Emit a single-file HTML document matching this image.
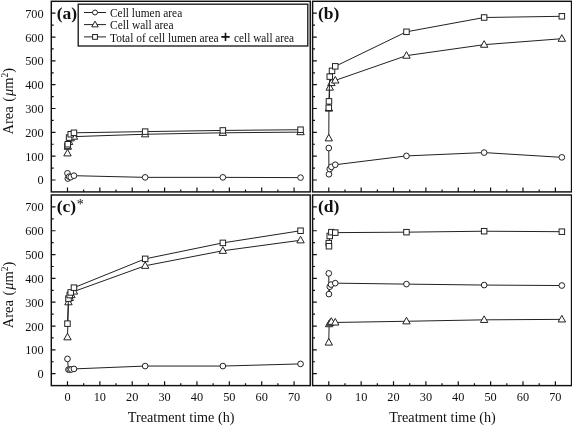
<!DOCTYPE html>
<html><head><meta charset="utf-8"><title>Figure</title>
<style>
html,body{margin:0;padding:0;background:#fff;}
body{width:572px;height:425px;overflow:hidden;}
svg{display:block;will-change:transform;font-family:"Liberation Serif",serif;}
.fr{fill:none;stroke:#111;stroke-width:1.45;}
.tk{fill:none;stroke:#111;stroke-width:1.2;}
.ln{fill:none;stroke:#222;stroke-width:1;}
.mk{fill:#fff;stroke:#222;stroke-width:1;}
.lg{fill:#fff;stroke:#111;stroke-width:1.3;}
.pl{font-size:17.5px;font-weight:bold;fill:#111;}
.ast{font-size:14px;font-weight:normal;}
.yl{font-size:12.3px;text-anchor:end;fill:#111;}
.xl{font-size:12.3px;text-anchor:middle;fill:#111;}
.al{font-size:14.5px;fill:#111;}
.lt{font-size:12.4px;fill:#111;}
</style></head><body>
<svg width="572" height="425" viewBox="0 0 572 425">
<rect width="572" height="425" fill="#fff"/>
<g>
<path class="tk" d="M67.48 191.9v-4.4M83.67 191.9v-2.4M99.85 191.9v-4.4M116.04 191.9v-2.4M132.22 191.9v-4.4M148.41 191.9v-2.4M164.59 191.9v-4.4M180.77 191.9v-2.4M196.96 191.9v-4.4M213.14 191.9v-2.4M229.33 191.9v-4.4M245.51 191.9v-2.4M261.7 191.9v-4.4M277.88 191.9v-2.4M294.07 191.9v-4.4M51.3 179.99h4.2M51.3 168.08h2.4M51.3 156.16h4.2M51.3 144.25h2.4M51.3 132.34h4.2M51.3 120.43h2.4M51.3 108.51h4.2M51.3 96.6h2.4M51.3 84.69h4.2M51.3 72.78h2.4M51.3 60.86h4.2M51.3 48.95h2.4M51.3 37.04h4.2M51.3 25.13h2.4M51.3 13.21h4.2"/>
<polyline class="ln" points="67.48,173.32 67.81,178.56 69.1,176.65 70.72,177.13 73.96,175.7 145.17,177.37 222.85,177.37 300.54,177.61"/>
<g class="mk"><circle cx="67.48" cy="173.32" r="2.85"/><circle cx="67.81" cy="178.56" r="2.85"/><circle cx="69.1" cy="176.65" r="2.85"/><circle cx="70.72" cy="177.13" r="2.85"/><circle cx="73.96" cy="175.7" r="2.85"/><circle cx="145.17" cy="177.37" r="2.85"/><circle cx="222.85" cy="177.37" r="2.85"/><circle cx="300.54" cy="177.61" r="2.85"/></g>
<polyline class="ln" points="67.48,153.3 67.81,146.63 69.1,141.87 70.72,138.29 73.96,136.63 145.17,134.24 222.85,132.81 300.54,132.1"/>
<g class="mk"><path d="M67.48 149.3L71.18 155.9L63.78 155.9Z"/><path d="M67.81 142.63L71.51 149.23L64.11 149.23Z"/><path d="M69.1 137.87L72.8 144.47L65.4 144.47Z"/><path d="M70.72 134.29L74.42 140.89L67.02 140.89Z"/><path d="M73.96 132.63L77.66 139.23L70.26 139.23Z"/><path d="M145.17 130.24L148.87 136.84L141.47 136.84Z"/><path d="M222.85 128.81L226.55 135.41L219.15 135.41Z"/><path d="M300.54 128.1L304.24 134.7L296.84 134.7Z"/></g>
<polyline class="ln" points="67.48,145.92 67.81,144.25 69.1,137.58 70.72,134.24 73.96,132.81 145.17,131.62 222.85,130.43 300.54,129.72"/>
<g class="mk"><rect x="64.73" y="143.17" width="5.5" height="5.5"/><rect x="65.06" y="141.5" width="5.5" height="5.5"/><rect x="66.35" y="134.83" width="5.5" height="5.5"/><rect x="67.97" y="131.49" width="5.5" height="5.5"/><rect x="71.21" y="130.06" width="5.5" height="5.5"/><rect x="142.42" y="128.87" width="5.5" height="5.5"/><rect x="220.1" y="127.68" width="5.5" height="5.5"/><rect x="297.79" y="126.97" width="5.5" height="5.5"/></g>
<rect class="fr" x="51.3" y="1.3" width="258.95" height="190.6"/>
<text class="pl" x="56.7" y="18.6">(a)</text>
<text class="yl" x="43.6" y="184.49">0</text>
<text class="yl" x="43.6" y="160.66">100</text>
<text class="yl" x="43.6" y="136.84">200</text>
<text class="yl" x="43.6" y="113.01">300</text>
<text class="yl" x="43.6" y="89.19">400</text>
<text class="yl" x="43.6" y="65.36">500</text>
<text class="yl" x="43.6" y="41.54">600</text>
<text class="yl" x="43.6" y="17.71">700</text>
<text class="al" transform="translate(12.7 134.5) rotate(-90)">Area<tspan dx="4.6">(</tspan><tspan font-style="italic" dx="0.8">μ</tspan>m<tspan font-size="9.5" dy="-4.5">2</tspan><tspan dy="4.5">)</tspan></text>
</g>
<g>
<path class="tk" d="M328.78 191.9v-4.4M344.97 191.9v-2.4M361.15 191.9v-4.4M377.34 191.9v-2.4M393.52 191.9v-4.4M409.71 191.9v-2.4M425.89 191.9v-4.4M442.07 191.9v-2.4M458.26 191.9v-4.4M474.44 191.9v-2.4M490.63 191.9v-4.4M506.81 191.9v-2.4M523 191.9v-4.4M539.18 191.9v-2.4M555.37 191.9v-4.4M312.6 179.99h4.2M312.6 168.08h2.4M312.6 156.16h4.2M312.6 144.25h2.4M312.6 132.34h4.2M312.6 120.43h2.4M312.6 108.51h4.2M312.6 96.6h2.4M312.6 84.69h4.2M312.6 72.78h2.4M312.6 60.86h4.2M312.6 48.95h2.4M312.6 37.04h4.2M312.6 25.13h2.4M312.6 13.21h4.2"/>
<polyline class="ln" points="328.78,148.06 328.95,174.27 329.76,169.03 331.37,166.88 335.26,164.74 406.47,155.92 484.15,152.59 561.84,157.35"/>
<g class="mk"><circle cx="328.78" cy="148.06" r="2.85"/><circle cx="328.95" cy="174.27" r="2.85"/><circle cx="329.76" cy="169.03" r="2.85"/><circle cx="331.37" cy="166.88" r="2.85"/><circle cx="335.26" cy="164.74" r="2.85"/><circle cx="406.47" cy="155.92" r="2.85"/><circle cx="484.15" cy="152.59" r="2.85"/><circle cx="561.84" cy="157.35" r="2.85"/></g>
<polyline class="ln" points="328.78,138.29 328.95,108.51 329.76,87.55 331.37,83.02 335.26,80.4 406.47,55.62 484.15,44.66 561.84,38.71"/>
<g class="mk"><path d="M328.78 134.29L332.48 140.89L325.08 140.89Z"/><path d="M328.95 104.51L332.65 111.11L325.25 111.11Z"/><path d="M329.76 83.55L333.46 90.15L326.06 90.15Z"/><path d="M331.37 79.02L335.07 85.62L327.67 85.62Z"/><path d="M335.26 76.4L338.96 83L331.56 83Z"/><path d="M406.47 51.62L410.17 58.22L402.77 58.22Z"/><path d="M484.15 40.66L487.85 47.26L480.45 47.26Z"/><path d="M561.84 34.71L565.54 41.31L558.14 41.31Z"/></g>
<polyline class="ln" points="328.78,107.8 328.95,101.37 329.76,76.59 332.02,70.87 335.26,66.34 406.47,31.8 484.15,17.5 561.84,16.31"/>
<g class="mk"><rect x="326.03" y="105.05" width="5.5" height="5.5"/><rect x="326.2" y="98.62" width="5.5" height="5.5"/><rect x="327.01" y="73.84" width="5.5" height="5.5"/><rect x="329.27" y="68.12" width="5.5" height="5.5"/><rect x="332.51" y="63.59" width="5.5" height="5.5"/><rect x="403.72" y="29.05" width="5.5" height="5.5"/><rect x="481.4" y="14.75" width="5.5" height="5.5"/><rect x="559.09" y="13.56" width="5.5" height="5.5"/></g>
<rect class="fr" x="312.6" y="1.3" width="258.95" height="190.6"/>
<text class="pl" x="318" y="18.6">(b)</text>
</g>
<g>
<path class="tk" d="M67.48 385.6v-4.4M83.67 385.6v-2.4M99.85 385.6v-4.4M116.04 385.6v-2.4M132.22 385.6v-4.4M148.41 385.6v-2.4M164.59 385.6v-4.4M180.77 385.6v-2.4M196.96 385.6v-4.4M213.14 385.6v-2.4M229.33 385.6v-4.4M245.51 385.6v-2.4M261.7 385.6v-4.4M277.88 385.6v-2.4M294.07 385.6v-4.4M51.3 373.69h4.2M51.3 361.77h2.4M51.3 349.86h4.2M51.3 337.95h2.4M51.3 326.04h4.2M51.3 314.12h2.4M51.3 302.21h4.2M51.3 290.3h2.4M51.3 278.39h4.2M51.3 266.48h2.4M51.3 254.56h4.2M51.3 242.65h2.4M51.3 230.74h4.2M51.3 218.83h2.4M51.3 206.91h4.2"/>
<polyline class="ln" points="67.48,358.92 68.46,369.64 69.75,369.64 71.37,369.4 73.96,368.92 145.17,366.06 222.85,366.06 300.54,363.92"/>
<g class="mk"><circle cx="67.48" cy="358.92" r="2.85"/><circle cx="68.46" cy="369.64" r="2.85"/><circle cx="69.75" cy="369.64" r="2.85"/><circle cx="71.37" cy="369.4" r="2.85"/><circle cx="73.96" cy="368.92" r="2.85"/><circle cx="145.17" cy="366.06" r="2.85"/><circle cx="222.85" cy="366.06" r="2.85"/><circle cx="300.54" cy="363.92" r="2.85"/></g>
<polyline class="ln" points="67.48,337.24 68.46,302.21 69.75,297.92 71.37,295.06 73.96,291.49 145.17,265.76 222.85,250.75 300.54,240.27"/>
<g class="mk"><path d="M67.48 333.24L71.18 339.84L63.78 339.84Z"/><path d="M68.46 298.21L72.16 304.81L64.76 304.81Z"/><path d="M69.75 293.92L73.45 300.52L66.05 300.52Z"/><path d="M71.37 291.06L75.07 297.67L67.67 297.67Z"/><path d="M73.96 287.49L77.66 294.09L70.26 294.09Z"/><path d="M145.17 261.76L148.87 268.36L141.47 268.36Z"/><path d="M222.85 246.75L226.55 253.35L219.15 253.35Z"/><path d="M300.54 236.27L304.24 242.87L296.84 242.87Z"/></g>
<polyline class="ln" points="67.48,323.65 68.46,298.64 69.75,295.06 70.72,292.44 73.96,287.68 145.17,258.85 222.85,242.89 300.54,230.74"/>
<g class="mk"><rect x="64.73" y="320.9" width="5.5" height="5.5"/><rect x="65.71" y="295.89" width="5.5" height="5.5"/><rect x="67" y="292.31" width="5.5" height="5.5"/><rect x="67.97" y="289.69" width="5.5" height="5.5"/><rect x="71.21" y="284.93" width="5.5" height="5.5"/><rect x="142.42" y="256.1" width="5.5" height="5.5"/><rect x="220.1" y="240.14" width="5.5" height="5.5"/><rect x="297.79" y="227.99" width="5.5" height="5.5"/></g>
<rect class="fr" x="51.3" y="195" width="258.95" height="190.6"/>
<text class="pl" x="56.7" y="212.3">(c)<tspan class="ast" dx="0.6" dy="-3.2">*</tspan></text>
<text class="yl" x="43.6" y="378.19">0</text>
<text class="yl" x="43.6" y="354.36">100</text>
<text class="yl" x="43.6" y="330.54">200</text>
<text class="yl" x="43.6" y="306.71">300</text>
<text class="yl" x="43.6" y="282.89">400</text>
<text class="yl" x="43.6" y="259.06">500</text>
<text class="yl" x="43.6" y="235.24">600</text>
<text class="yl" x="43.6" y="211.41">700</text>
<text class="al" transform="translate(12.7 328.2) rotate(-90)">Area<tspan dx="4.6">(</tspan><tspan font-style="italic" dx="0.8">μ</tspan>m<tspan font-size="9.5" dy="-4.5">2</tspan><tspan dy="4.5">)</tspan></text>
<text class="xl" x="67.48" y="401.4">0</text>
<text class="xl" x="99.85" y="401.4">10</text>
<text class="xl" x="132.22" y="401.4">20</text>
<text class="xl" x="164.59" y="401.4">30</text>
<text class="xl" x="196.96" y="401.4">40</text>
<text class="xl" x="229.33" y="401.4">50</text>
<text class="xl" x="261.7" y="401.4">60</text>
<text class="xl" x="294.07" y="401.4">70</text>
<text class="al" style="font-size:14.2px" x="181.18" y="421.6" text-anchor="middle">Treatment time (h)</text>
</g>
<g>
<path class="tk" d="M328.78 385.6v-4.4M344.97 385.6v-2.4M361.15 385.6v-4.4M377.34 385.6v-2.4M393.52 385.6v-4.4M409.71 385.6v-2.4M425.89 385.6v-4.4M442.07 385.6v-2.4M458.26 385.6v-4.4M474.44 385.6v-2.4M490.63 385.6v-4.4M506.81 385.6v-2.4M523 385.6v-4.4M539.18 385.6v-2.4M555.37 385.6v-4.4M312.6 373.69h4.2M312.6 361.77h2.4M312.6 349.86h4.2M312.6 337.95h2.4M312.6 326.04h4.2M312.6 314.12h2.4M312.6 302.21h4.2M312.6 290.3h2.4M312.6 278.39h4.2M312.6 266.48h2.4M312.6 254.56h4.2M312.6 242.65h2.4M312.6 230.74h4.2M312.6 218.83h2.4M312.6 206.91h4.2"/>
<polyline class="ln" points="328.78,273.38 328.95,294.11 329.76,286.73 331.05,284.58 335.26,283.15 406.47,284.11 484.15,285.06 561.84,285.54"/>
<g class="mk"><circle cx="328.78" cy="273.38" r="2.85"/><circle cx="328.95" cy="294.11" r="2.85"/><circle cx="329.76" cy="286.73" r="2.85"/><circle cx="331.05" cy="284.58" r="2.85"/><circle cx="335.26" cy="283.15" r="2.85"/><circle cx="406.47" cy="284.11" r="2.85"/><circle cx="484.15" cy="285.06" r="2.85"/><circle cx="561.84" cy="285.54" r="2.85"/></g>
<polyline class="ln" points="328.78,342.48 329.11,324.13 330.4,322.7 331.37,321.75 335.26,322.46 406.47,321.27 484.15,319.84 561.84,319.37"/>
<g class="mk"><path d="M328.78 338.48L332.48 345.08L325.08 345.08Z"/><path d="M329.11 320.13L332.81 326.73L325.41 326.73Z"/><path d="M330.4 318.7L334.1 325.3L326.7 325.3Z"/><path d="M331.37 317.75L335.07 324.35L327.67 324.35Z"/><path d="M335.26 318.46L338.96 325.06L331.56 325.06Z"/><path d="M406.47 317.27L410.17 323.87L402.77 323.87Z"/><path d="M484.15 315.84L487.85 322.44L480.45 322.44Z"/><path d="M561.84 315.37L565.54 321.97L558.14 321.97Z"/></g>
<polyline class="ln" points="328.78,243.13 328.95,246.22 329.76,235.98 331.37,232.17 335.26,232.64 406.47,232.17 484.15,231.21 561.84,231.69"/>
<g class="mk"><rect x="326.03" y="240.38" width="5.5" height="5.5"/><rect x="326.2" y="243.47" width="5.5" height="5.5"/><rect x="327.01" y="233.23" width="5.5" height="5.5"/><rect x="328.62" y="229.42" width="5.5" height="5.5"/><rect x="332.51" y="229.89" width="5.5" height="5.5"/><rect x="403.72" y="229.42" width="5.5" height="5.5"/><rect x="481.4" y="228.46" width="5.5" height="5.5"/><rect x="559.09" y="228.94" width="5.5" height="5.5"/></g>
<rect class="fr" x="312.6" y="195" width="258.95" height="190.6"/>
<text class="pl" x="318" y="212.3">(d)</text>
<text class="xl" x="328.78" y="401.4">0</text>
<text class="xl" x="361.15" y="401.4">10</text>
<text class="xl" x="393.52" y="401.4">20</text>
<text class="xl" x="425.89" y="401.4">30</text>
<text class="xl" x="458.26" y="401.4">40</text>
<text class="xl" x="490.63" y="401.4">50</text>
<text class="xl" x="523" y="401.4">60</text>
<text class="xl" x="555.37" y="401.4">70</text>
<text class="al" style="font-size:14.2px" x="442.47" y="421.6" text-anchor="middle">Treatment time (h)</text>
</g>
<g>
<rect class="lg" x="78.2" y="4.2" width="229.6" height="41.8"/>
<path class="ln" d="M84 12.5H106"/>
<g class="mk"><circle cx="95" cy="12.5" r="2.48"/></g>
<text class="lt" x="110" y="17.1" textLength="72.2" lengthAdjust="spacingAndGlyphs">Cell lumen area</text>
<path class="ln" d="M84 24.6H106"/>
<g class="mk"><path d="M95 21.12L98.22 26.86L91.78 26.86Z"/></g>
<text class="lt" x="110" y="29.2" textLength="63.5" lengthAdjust="spacingAndGlyphs">Cell wall area</text>
<path class="ln" d="M84 36.9H106"/>
<g class="mk"><rect x="92.61" y="34.51" width="4.79" height="4.79"/></g>
<text class="lt" x="110" y="41.5" textLength="108.6" lengthAdjust="spacingAndGlyphs">Total of cell lumen area</text>
<path d="M221.3 36.9h8.4M225.5 32.7v8.4" stroke="#111" stroke-width="1.6" fill="none"/>
<text class="lt" x="234.1" y="41.5" textLength="60" lengthAdjust="spacingAndGlyphs">cell wall area</text>
</g>
</svg>
</body></html>
